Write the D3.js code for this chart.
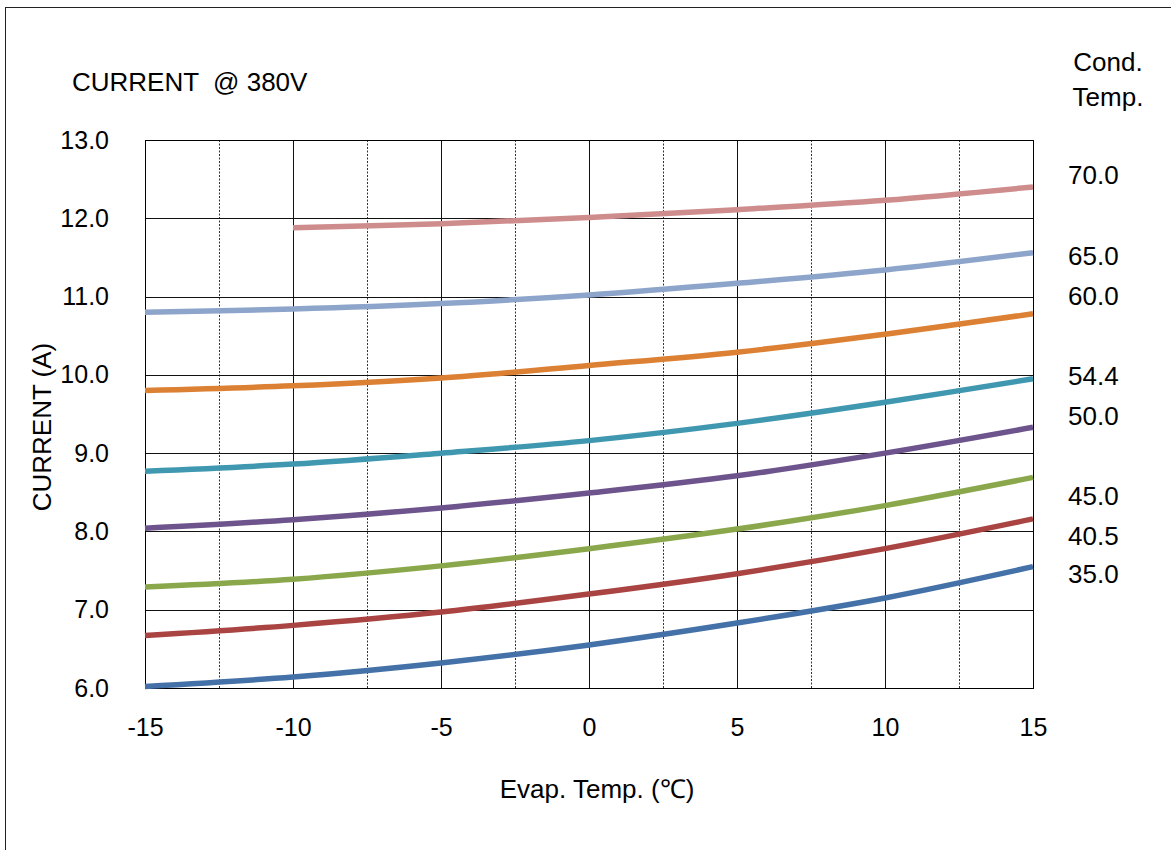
<!DOCTYPE html>
<html>
<head>
  <meta charset="utf-8">
  <title>Current @ 380V</title>
  <script src="https://d3js.org/d3.v7.min.js"></script>
  <style>
    html, body { margin: 0; padding: 0; background: #fff; }
    svg { display: block; }
    text { font-family: "Liberation Sans", Arial, sans-serif; fill: #000; }
  </style>
</head>
<body>
<svg id="chart" width="1171" height="850"></svg>
<script>
  // evaporating temperature (x), one current series per condensing temperature
  const evapTemps = [-15, -10, -5, 0, 5, 10, 15];
  const condTemps = ["35.0", "40.5", "45.0", "50.0", "54.4", "60.0", "65.0", "70.0"];
  const cur35   = [6.02, 6.14, 6.32, 6.55, 6.83, 7.15, 7.55];
  const cur40_5 = [6.67, 6.80, 6.97, 7.20, 7.46, 7.78, 8.16];
  const cur45   = [7.29, 7.39, 7.56, 7.78, 8.03, 8.33, 8.69];
  const cur50   = [8.04, 8.15, 8.30, 8.49, 8.71, 9.00, 9.33];
  const cur54_4 = [8.77, 8.86, 9.00, 9.16, 9.38, 9.65, 9.95];
  const cur60   = [9.80, 9.86, 9.96, 10.12, 10.29, 10.52, 10.78];
  const cur65   = [10.80, 10.84, 10.91, 11.02, 11.17, 11.34, 11.56];
  const cur70   = [null, 11.88, 11.93, 12.01, 12.11, 12.23, 12.40];
  // where the condensing-temperature labels sit, in amps
  const labelAt = [7.46, 7.95, 8.46, 9.48, 9.99, 11.015, 11.53, 12.56];
  const colors = ["#4471a8", "#a94442", "#8aa84b", "#6e548d", "#3f98b0", "#dc8034", "#8ea5cb", "#cf8c8c"];

  const series = [cur35, cur40_5, cur45, cur50, cur54_4, cur60, cur65, cur70];

  const svg = d3.select("#chart");
  const plotL = 145, plotR = 1033, plotT = 140, plotB = 688;

  const x = d3.scaleLinear().domain([-15, 15]).range([plotL, plotR]);
  const y = d3.scaleLinear().domain([6, 13]).range([plotB, plotT]);

  // outer frame
  svg.append("rect")
    .attr("x", 5.5).attr("y", 7.5)
    .attr("width", 1200).attr("height", 900)
    .attr("fill", "none").attr("stroke", "#222").attr("stroke-width", 1);

  // minor (dotted) vertical grid
  const g = svg.append("g");
  g.selectAll("line.minor")
    .data(d3.range(-12.5, 15, 5))
    .join("line")
    .attr("x1", d => Math.round(x(d)) + 0.5).attr("x2", d => Math.round(x(d)) + 0.5)
    .attr("y1", plotT).attr("y2", plotB)
    .attr("stroke", "#333").attr("stroke-dasharray", "2,1.5");

  // major vertical grid
  g.selectAll("line.vmajor")
    .data(d3.range(-10, 15, 5))
    .join("line")
    .attr("x1", d => Math.round(x(d)) + 0.5).attr("x2", d => Math.round(x(d)) + 0.5)
    .attr("y1", plotT).attr("y2", plotB)
    .attr("stroke", "#111");

  // horizontal grid
  g.selectAll("line.h")
    .data(d3.range(7, 13, 1))
    .join("line")
    .attr("x1", plotL).attr("x2", plotR)
    .attr("y1", d => Math.round(y(d)) + 0.5).attr("y2", d => Math.round(y(d)) + 0.5)
    .attr("stroke", "#111");

  // plot border
  svg.append("rect")
    .attr("x", plotL + 0.5).attr("y", plotT + 0.5)
    .attr("width", plotR - plotL).attr("height", plotB - plotT)
    .attr("fill", "none").attr("stroke", "#000");

  // curves
  const line = d3.line()
    .defined(d => d[1] != null)
    .x(d => x(d[0]))
    .y(d => y(d[1]))
    .curve(d3.curveCatmullRom);

  svg.append("g").selectAll("path")
    .data(series)
    .join("path")
    .attr("d", s => line(evapTemps.map((t, i) => [t, s[i]])))
    .attr("fill", "none")
    .attr("stroke", (s, i) => colors[i])
    .attr("stroke-width", 5.5);

  // axes (labels only, Excel style)
  const yAxis = d3.axisLeft(y).tickValues(d3.range(6, 14, 1)).tickFormat(d3.format(".1f")).tickSize(0).tickPadding(36);
  const yg = svg.append("g").attr("transform", `translate(${plotL},0)`).call(yAxis);
  yg.select(".domain").remove();
  yg.selectAll("text").style("font-size", "25px").attr("fill", "#000")
    .style("font-family", '"Liberation Sans", Arial, sans-serif');

  const xAxis = d3.axisBottom(x).tickValues(d3.range(-15, 20, 5))
    .tickFormat(d => String(d)).tickSize(0).tickPadding(30);
  const xg = svg.append("g").attr("transform", `translate(0,${plotB})`).call(xAxis);
  xg.select(".domain").remove();
  xg.selectAll("text").style("font-size", "25px").attr("fill", "#000")
    .style("font-family", '"Liberation Sans", Arial, sans-serif');

  // titles
  svg.append("text").attr("x", 72).attr("y", 91)
    .style("font-size", "26px").style("white-space", "pre")
    .text("CURRENT  @ 380V");

  svg.append("text")
    .attr("transform", "translate(51,427) rotate(-90)")
    .attr("text-anchor", "middle")
    .style("font-size", "26px")
    .text("CURRENT (A)");

  svg.append("text").attr("x", 597).attr("y", 798)
    .attr("text-anchor", "middle").style("font-size", "26px")
    .text("Evap. Temp. (℃)");

  svg.append("text").attr("x", 1108).attr("y", 71)
    .attr("text-anchor", "middle").style("font-size", "26px").text("Cond.");
  svg.append("text").attr("x", 1108).attr("y", 106)
    .attr("text-anchor", "middle").style("font-size", "26px").text("Temp.");

  // condensing temperature labels
  svg.append("g").selectAll("text")
    .data(condTemps)
    .join("text")
    .attr("x", 1068)
    .attr("y", (d, i) => y(labelAt[i]) + 9.5)
    .style("font-size", "26px")
    .text(d => d);
</script>
</body>
</html>
